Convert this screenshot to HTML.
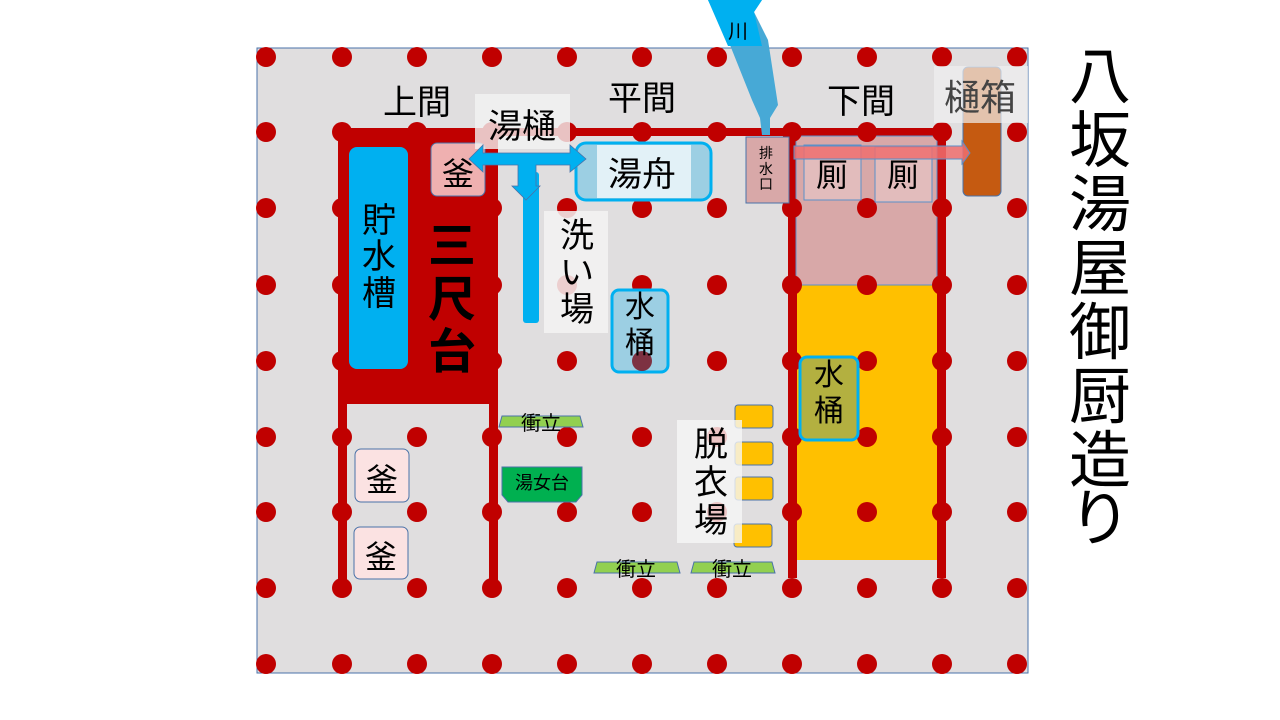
<!DOCTYPE html>
<html><head><meta charset="utf-8"><style>
html,body{margin:0;padding:0;background:#fff;width:1280px;height:720px;overflow:hidden}
text{font-family:"Liberation Sans","Noto Sans CJK JP",sans-serif}
</style></head><body>
<svg width="1280" height="720" viewBox="0 0 1280 720" xmlns="http://www.w3.org/2000/svg">
<defs>
<g id="row" fill="#c00000">
<circle cx="266" cy="0" r="10"/><circle cx="342" cy="0" r="10"/><circle cx="417" cy="0" r="10"/><circle cx="492" cy="0" r="10"/><circle cx="567" cy="0" r="10"/><circle cx="642" cy="0" r="10"/><circle cx="717" cy="0" r="10"/><circle cx="792" cy="0" r="10"/><circle cx="867" cy="0" r="10"/><circle cx="942" cy="0" r="10"/><circle cx="1017" cy="0" r="10"/>
</g>
</defs>
<rect x="257" y="48" width="771" height="625" fill="#e0dedf" stroke="#4a72a8" stroke-width="1"/>
<rect x="796" y="285" width="142" height="275" fill="#ffc000"/>
<rect x="338" y="128" width="160" height="276" fill="#c00000"/>
<rect x="338" y="128" width="454" height="8" fill="#c00000"/>
<rect x="338" y="128" width="9" height="460" fill="#c00000"/>
<rect x="489" y="128" width="9" height="460" fill="#c00000"/>
<rect x="788" y="128" width="158" height="8" fill="#c00000"/>
<rect x="788" y="128" width="9" height="450" fill="#c00000"/>
<rect x="937" y="128" width="9" height="450" fill="#c00000"/>
<rect x="796" y="136" width="141" height="149" fill="#d8a8a8" stroke="#5b8fc7" stroke-width="1"/>
<use href="#row" y="57"/><use href="#row" y="132"/><use href="#row" y="208"/><use href="#row" y="285"/><use href="#row" y="361"/><use href="#row" y="437"/><use href="#row" y="512"/><use href="#row" y="588"/><use href="#row" y="664"/>
<!-- river -->
<path d="M708,0 L762,0 L754,12 L768,40 L778,105 L770,118 L770,135 L762,135 L760,118 L752,100 L728,40 Z" fill="#47a9d6"/>
<path d="M708,0 L762,0 L754,12 L762,46 L728,46 Z" fill="#00b0f0"/>
<text x="738" y="38" font-size="20" text-anchor="middle">川</text>
<rect x="746" y="137" width="43" height="66" fill="#d8a8a8" stroke="#4a72a8"/>
<text x="766" y="158" font-size="14" text-anchor="middle">排</text>
<text x="766" y="174" font-size="14" text-anchor="middle">水</text>
<text x="766" y="189" font-size="14" text-anchor="middle">口</text>
<rect x="804" y="145" width="57" height="55" fill="#e2bcbc" stroke="#5b8fc7"/>
<rect x="875" y="147" width="57" height="55" fill="#e2bcbc" stroke="#5b8fc7"/>
<text x="832" y="186" font-size="32" text-anchor="middle">厠</text>
<text x="903" y="186" font-size="32" text-anchor="middle">厠</text>
<rect x="963" y="67" width="38" height="129" rx="5" fill="#c55a11" stroke="#4a72a8"/>
<rect x="934" y="66" width="94" height="57" fill="#f0f0f0" fill-opacity="0.7"/>
<text x="980" y="110" font-size="36" text-anchor="middle" fill="#444">樋箱</text>
<path d="M794,146 L962,146 L962,141 L970,153 L962,164 L962,159 L794,159 Z" fill="#ef6f6f" fill-opacity="0.85" stroke="#5b8fc7"/>
<text x="417" y="114" font-size="34" text-anchor="middle">上間</text>
<text x="642" y="110" font-size="34" text-anchor="middle">平間</text>
<text x="861" y="113" font-size="34" text-anchor="middle">下間</text>
<rect x="349" y="147" width="59" height="222" rx="8" fill="#00b0f0"/>
<text x="379" y="232" font-size="34" text-anchor="middle">貯</text>
<text x="379" y="268" font-size="34" text-anchor="middle">水</text>
<text x="379" y="305" font-size="34" text-anchor="middle">槽</text>
<text x="452" y="262" font-size="48" text-anchor="middle" font-weight="bold">三</text>
<text x="452" y="316" font-size="48" text-anchor="middle" font-weight="bold">尺</text>
<text x="452" y="368" font-size="48" text-anchor="middle" font-weight="bold">台</text>
<rect x="431" y="143" width="54" height="53" rx="6" fill="#efb0b0" stroke="#4a72a8"/>
<text x="458" y="185" font-size="32" text-anchor="middle">釜</text>
<rect x="576" y="143" width="135" height="57" rx="10" fill="#9ccfe3" stroke="#00b0f0" stroke-width="3"/>
<rect x="597" y="145" width="94" height="53" fill="#e2f1f7"/>
<text x="642" y="186" font-size="34" text-anchor="middle">湯舟</text>
<rect x="475" y="94" width="95" height="55" fill="#f3f3f3" fill-opacity="0.8"/>
<text x="522" y="138" font-size="34" text-anchor="middle">湯樋</text>
<rect x="523" y="172" width="16" height="151" rx="3" fill="#00b0f0"/>
<path d="M469,159 L483,145 L483,153 L570,153 L570,145 L586,159 L570,172 L570,165 L536,165 L536,186 L540,186 L526,200 L512,186 L518,186 L518,165 L483,165 L483,172 Z" fill="#00b0f0" stroke="#4a72a8" stroke-width="0.8"/>
<rect x="544" y="211" width="64" height="122" fill="#f3f3f3" fill-opacity="0.85"/>
<text x="577" y="247" font-size="34" text-anchor="middle">洗</text>
<text x="577" y="284" font-size="34" text-anchor="middle">い</text>
<text x="577" y="321" font-size="34" text-anchor="middle">場</text>
<rect x="612" y="290" width="56" height="82" rx="7" fill="#9ccfe3" stroke="#00b0f0" stroke-width="3"/>
<circle cx="642" cy="361" r="10" fill="#7a2030" fill-opacity="0.9"/>
<text x="640" y="317" font-size="30" text-anchor="middle">水</text>
<text x="640" y="353" font-size="30" text-anchor="middle">桶</text>
<rect x="800" y="357" width="58" height="83" rx="7" fill="#b3b040" stroke="#00b0f0" stroke-width="3"/>
<text x="829" y="385" font-size="30" text-anchor="middle">水</text>
<text x="829" y="421" font-size="30" text-anchor="middle">桶</text>
<path d="M502,416 L580,416 L583,427 L499,427 Z" fill="#92d050" stroke="#4a72a8"/>
<text x="541" y="430" font-size="20" text-anchor="middle">衝立</text>
<path d="M597,562 L677,562 L680,573 L594,573 Z" fill="#92d050" stroke="#4a72a8"/>
<text x="636" y="576" font-size="20" text-anchor="middle">衝立</text>
<path d="M694,562 L772,562 L775,573 L691,573 Z" fill="#92d050" stroke="#4a72a8"/>
<text x="732" y="576" font-size="20" text-anchor="middle">衝立</text>
<path d="M502,467 L582,467 L582,495 L576,502 L508,502 L502,495 Z" fill="#00b050" stroke="#4a72a8"/>
<text x="542" y="489" font-size="18" text-anchor="middle">湯女台</text>
<rect x="735" y="405" width="38" height="23" rx="3" fill="#ffc000" stroke="#4a72a8"/>
<rect x="735" y="442" width="38" height="23" rx="3" fill="#ffc000" stroke="#4a72a8"/>
<rect x="735" y="477" width="38" height="23" rx="3" fill="#ffc000" stroke="#4a72a8"/>
<rect x="734" y="524" width="38" height="23" rx="3" fill="#ffc000" stroke="#4a72a8"/>
<rect x="677" y="420" width="65" height="123" fill="#f6f6f6" fill-opacity="0.8"/>
<text x="711" y="456" font-size="34" text-anchor="middle">脱</text>
<text x="711" y="494" font-size="34" text-anchor="middle">衣</text>
<text x="711" y="532" font-size="34" text-anchor="middle">場</text>
<rect x="355" y="449" width="54" height="53" rx="6" fill="#fbe2e2" stroke="#4a72a8"/>
<text x="382" y="491" font-size="32" text-anchor="middle">釜</text>
<rect x="354" y="527" width="54" height="52" rx="6" fill="#fbe2e2" stroke="#4a72a8"/>
<text x="381" y="568" font-size="32" text-anchor="middle">釜</text>
<g font-size="62" text-anchor="middle">
<text x="1100" y="98">八</text><text x="1100" y="162">坂</text><text x="1100" y="226">湯</text><text x="1100" y="290">屋</text><text x="1100" y="354">御</text><text x="1100" y="418">厨</text><text x="1100" y="482">造</text><text x="1100" y="540">り</text>
</g>
</svg>
</body></html>
